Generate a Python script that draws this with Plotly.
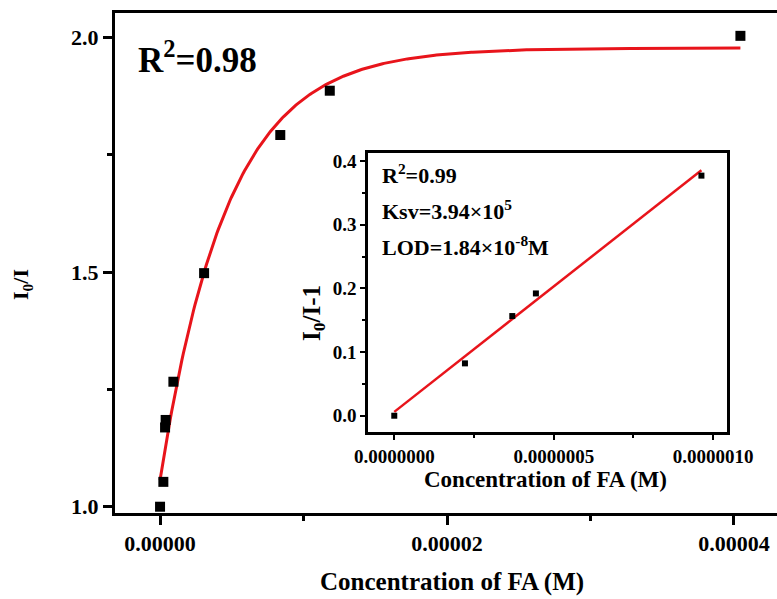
import numpy as np
import plotly.graph_objects as go

# Quenching data: I0/I versus FA concentration (full range)
conc_main = [0.0, 2.3e-7, 3.5e-7, 3.9e-7, 9.3e-7, 3.07e-6, 8.38e-6, 1.183e-5, 4.045e-5]
ratio_main = [1.000, 1.053, 1.169, 1.185, 1.2665, 1.498, 1.7925, 1.887, 2.004]

# Exponential saturation fit parameters: y = A - B*exp(-x/tau)
fit_A, fit_B, fit_tau = 1.978, 0.921, 4.68e-6
fit_x_start, fit_x_end = 0.0, 4.045e-5

# Stern-Volmer linear region (inset)
conc_sv = [0.0, 2.216e-7, 3.70e-7, 4.44e-7, 9.63e-7]
sv_vals = [0.0, 0.0822, 0.1565, 0.192, 0.377]
ksv, sv_intercept = 3.94e5, 0.006

main_xticks = [0.0, 2e-5, 4e-5]
main_xticktext = ["0.00000", "0.00002", "0.00004"]
main_yticks = [1.0, 1.5, 2.0]
main_yticktext = ["1.0", "1.5", "2.0"]
inset_xticks = [0.0, 5e-7, 1e-6]
inset_xticktext = ["0.0000000", "0.0000005", "0.0000010"]
inset_yticks = [0.0, 0.1, 0.2, 0.3, 0.4]
inset_yticktext = ["0.0", "0.1", "0.2", "0.3", "0.4"]

FONT = "Liberation Serif"
RED = "#e8141b"


def bold(labels):
    return ["<b>%s</b>" % t for t in labels]


fit_x = np.linspace(fit_x_start, fit_x_end, 400)
fit_y = fit_A - fit_B * np.exp(-fit_x / fit_tau)
sv_x = np.array([conc_sv[0], conc_sv[-1]])
sv_y = ksv * sv_x + sv_intercept

fig = go.Figure()
fig.add_trace(go.Scatter(x=fit_x, y=fit_y, mode="lines",
                         line=dict(color=RED, width=3), xaxis="x", yaxis="y"))
fig.add_trace(go.Scatter(x=conc_main, y=ratio_main, mode="markers",
                         marker=dict(symbol="square", size=10, color="black"),
                         xaxis="x", yaxis="y", cliponaxis=False))
fig.add_trace(go.Scatter(x=sv_x, y=sv_y, mode="lines",
                         line=dict(color=RED, width=2.5), xaxis="x2", yaxis="y2"))
fig.add_trace(go.Scatter(x=conc_sv, y=sv_vals, mode="markers",
                         marker=dict(symbol="square", size=6, color="black"),
                         xaxis="x2", yaxis="y2", cliponaxis=False))

tick_main = dict(family=FONT, size=22, color="black")
tick_inset = dict(family=FONT, size=19, color="black")

fig.update_layout(
    width=777, height=599, autosize=False,
    margin=dict(l=115, r=0, t=13, b=86, autoexpand=False),
    plot_bgcolor="white", paper_bgcolor="white",
    showlegend=False,
    xaxis=dict(domain=[0, 1], range=[-3.14e-6, 4.30e-5], automargin=False,
               tickvals=main_xticks, ticktext=bold(main_xticktext), tickfont=tick_main,
               ticks="outside", ticklen=9, tickwidth=3, tickcolor="black",
               minor=dict(ticks="outside", ticklen=5, tickwidth=3, tickcolor="black",
                          tickvals=[1e-5, 3e-5]),
               showline=True, linewidth=3, linecolor="black", mirror=True,
               showgrid=False, zeroline=False),
    yaxis=dict(domain=[0, 1], range=[0.9866, 2.0527], automargin=False,
               tickvals=main_yticks, ticktext=bold(main_yticktext), tickfont=tick_main,
               ticks="outside", ticklen=9, tickwidth=3, tickcolor="black",
               minor=dict(ticks="outside", ticklen=5, tickwidth=3, tickcolor="black",
                          tickvals=[1.25, 1.75]),
               showline=True, linewidth=3, linecolor="black", mirror=False,
               showgrid=False, zeroline=False),
    xaxis2=dict(domain=[0.3826, 0.9239], anchor="y2", range=[-8.15e-8, 1.042e-6],
                automargin=False,
                tickvals=inset_xticks, ticktext=bold(inset_xticktext), tickfont=tick_inset,
                ticks="outside", ticklen=5, tickwidth=2, tickcolor="black",
                minor=dict(ticks="outside", ticklen=3, tickwidth=2, tickcolor="black",
                           tickvals=[2.5e-7, 7.5e-7]),
                showline=True, linewidth=3, linecolor="black", mirror=True,
                showgrid=False, zeroline=False),
    yaxis2=dict(domain=[0.1626, 0.7206], anchor="x2", range=[-0.0251, 0.413],
                automargin=False,
                tickvals=inset_yticks, ticktext=bold(inset_yticktext), tickfont=tick_inset,
                ticks="outside", ticklen=5, tickwidth=2, tickcolor="black",
                minor=dict(ticks="outside", ticklen=3, tickwidth=2, tickcolor="black",
                           tickvals=[0.05, 0.15, 0.25, 0.35]),
                showline=True, linewidth=3, linecolor="black", mirror=True,
                showgrid=False, zeroline=False),
    shapes=[dict(type="rect", xref="paper", yref="paper", x0=0.3826, x1=0.9239,
                 y0=0.1626, y1=0.7206, fillcolor="white", line=dict(width=0),
                 layer="below")],
)


def label(text, x, y, size, angle=0, xanchor="center"):
    fig.add_annotation(text="<b>%s</b>" % text, x=x, y=y, xref="paper", yref="paper",
                       xanchor=xanchor, yanchor="middle", showarrow=False,
                       textangle=angle, borderpad=0,
                       font=dict(family=FONT, size=size, color="black"))


def px_x(p):
    return (p - 115) / 662


def px_y(p):
    return 1 - (p - 13) / 500


label("Concentration of FA (M)", px_x(452), px_y(582), 25)
label("I<sub>0</sub>/I", px_x(22), px_y(285), 22, angle=-90)
label("R<sup>2</sup>=0.98", px_x(137), px_y(58), 35, xanchor="left")
label("Concentration of FA (M)", px_x(545), px_y(479), 23)
label("I<sub>0</sub>/I-1", px_x(313), px_y(313), 25, angle=-90)
label("R<sup>2</sup>=0.99", px_x(381), px_y(174), 22, xanchor="left")
label("Ksv=3.94×10<sup>5</sup>", px_x(381), px_y(210), 22, xanchor="left")
label("LOD=1.84×10<sup>-8</sup>M", px_x(381), px_y(246), 22, xanchor="left")

fig.write_html("out.html")
